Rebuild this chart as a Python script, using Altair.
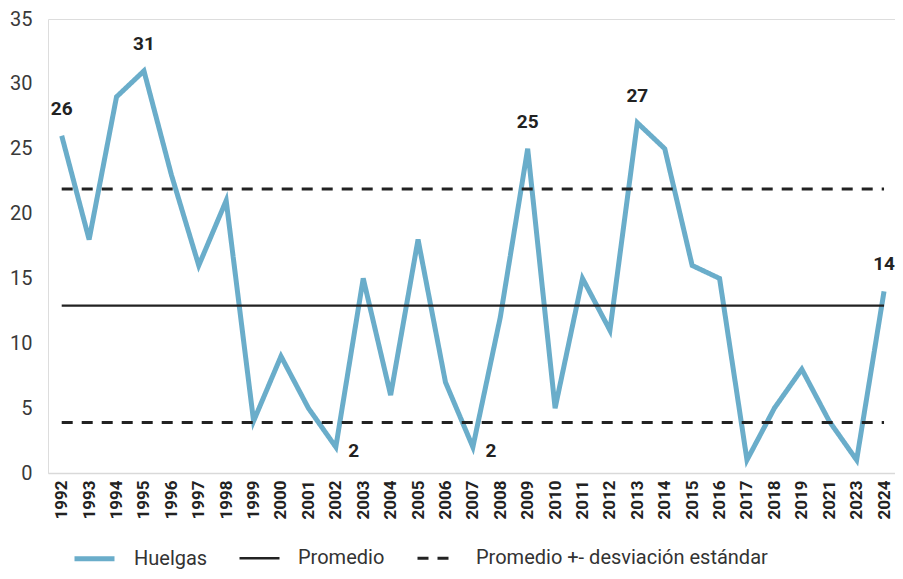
import altair as alt
import pandas as pd

years = ["1992", "1993", "1994", "1995", "1996", "1997", "1998", "1999", "2000",
         "2001", "2002", "2003", "2004", "2005", "2006", "2007", "2008", "2009",
         "2010", "2011", "2012", "2013", "2014", "2015", "2016", "2017", "2018",
         "2019", "2021", "2023", "2024"]
huelgas = [26, 18, 29, 31, 23, 16, 21, 4, 9, 5, 2, 15, 6, 18, 7, 2, 12, 25,
           5, 15, 11, 27, 25, 16, 15, 1, 5, 8, 4, 1, 14]
promedio = 12.9
desv = 9.0

labels_above = ["1992", "1995", "2009", "2013", "2024"]
labels_below = ["2002", "2007"]

series_names = ["Huelgas", "Promedio", "Promedio +- desviación estándar"]

rows = []
for i, (y, v) in enumerate(zip(years, huelgas)):
    rows.append({"idx": i, "year": y, "value": v, "serie": series_names[0], "grp": "h"})
    rows.append({"idx": i, "year": y, "value": promedio, "serie": series_names[1], "grp": "m"})
    rows.append({"idx": i, "year": y, "value": promedio + desv, "serie": series_names[2], "grp": "u"})
    rows.append({"idx": i, "year": y, "value": promedio - desv, "serie": series_names[2], "grp": "l"})
df = pd.DataFrame(rows)

lab_rows = []
for i, (y, v) in enumerate(zip(years, huelgas)):
    if y in labels_above:
        lab_rows.append({"idx": i, "value": v, "txt": str(v), "pos": "above"})
    if y in labels_below:
        lab_rows.append({"idx": i, "value": v, "txt": str(v), "pos": "below"})
lab = pd.DataFrame(lab_rows)

FONT = "Roboto, sans-serif"
label_expr = "[" + ",".join("'%s'" % y for y in years) + "][datum.value]"

xscale = alt.Scale(domain=[-0.5, len(years) - 0.6], nice=False, zero=False)
yscale = alt.Scale(domain=[0, 35], nice=False)

x_axis = alt.Axis(values=list(range(len(years))), labelExpr=label_expr,
                  labelAngle=-90, labelAlign="right", labelBaseline="middle",
                  labelFontWeight="bold", labelFontSize=17, labelColor="#222222",
                  labelPadding=7, labelOverlap=False, labelBound=False, ticks=False,
                  grid=False, domain=True, domainColor="#d9d9d9", domainWidth=1.5,
                  labelFont=FONT)
y_axis = alt.Axis(values=[0, 5, 10, 15, 20, 25, 30, 35], ticks=False, grid=False,
                  domain=False, labelFontSize=20, labelColor="#3a3a3a",
                  labelPadding=16, labelFont=FONT, labelOverlap=False)


def xe():
    return alt.X("idx:Q", scale=xscale, title=None, axis=x_axis)


def ye():
    return alt.Y("value:Q", scale=yscale, title=None, axis=y_axis)


LX, LY = 24, 517
lines = alt.Chart(df).mark_line(strokeCap="butt").encode(
    x=xe(),
    y=ye(),
    detail="grp:N",
    color=alt.Color("serie:N", title=None,
                    scale=alt.Scale(domain=series_names, range=["#6aadca", "#222222", "#222222"]),
                    legend=alt.Legend(orient="none", legendX=LX, legendY=LY,
                                      direction="horizontal", symbolType="stroke",
                                      labelFontSize=20, labelFont=FONT, labelColor="#333333",
                                      symbolSize=1600, columnPadding=26, labelOffset=17,
                                      labelLimit=400)),
    strokeDash=alt.StrokeDash("serie:N", title=None,
                              scale=alt.Scale(type="ordinal", domain=series_names,
                                              range=[[1, 0], [1, 0], [11, 9]]),
                              legend=alt.Legend(orient="none", legendX=LX, legendY=LY,
                                                direction="horizontal")),
    strokeWidth=alt.StrokeWidth("serie:N", title=None,
                                scale=alt.Scale(type="ordinal", domain=series_names,
                                                range=[5, 2.4, 3]),
                                legend=alt.Legend(orient="none", legendX=LX, legendY=LY,
                                                  direction="horizontal")),
    order=alt.Order("idx:Q"),
)

above = alt.Chart(lab).transform_filter(alt.datum.pos == "above").mark_text(
    dy=-27, fontSize=19, fontWeight="bold", color="#222222", font=FONT
).encode(x=xe(), y=ye(), text="txt:N")

below = alt.Chart(lab).transform_filter(alt.datum.pos == "below").mark_text(
    dx=18, dy=4, fontSize=19, fontWeight="bold", color="#222222", font=FONT
).encode(x=xe(), y=ye(), text="txt:N")

chart = alt.layer(lines, above, below).properties(
    width=847, height=454,
    autosize=alt.AutoSizeParams(type="none"),
    padding={"left": 40, "top": 11, "right": 0, "bottom": 98},
).configure_view(stroke=None).configure(font=FONT)

chart.save("out.html", embed_options={"renderer": "svg", "actions": False})
